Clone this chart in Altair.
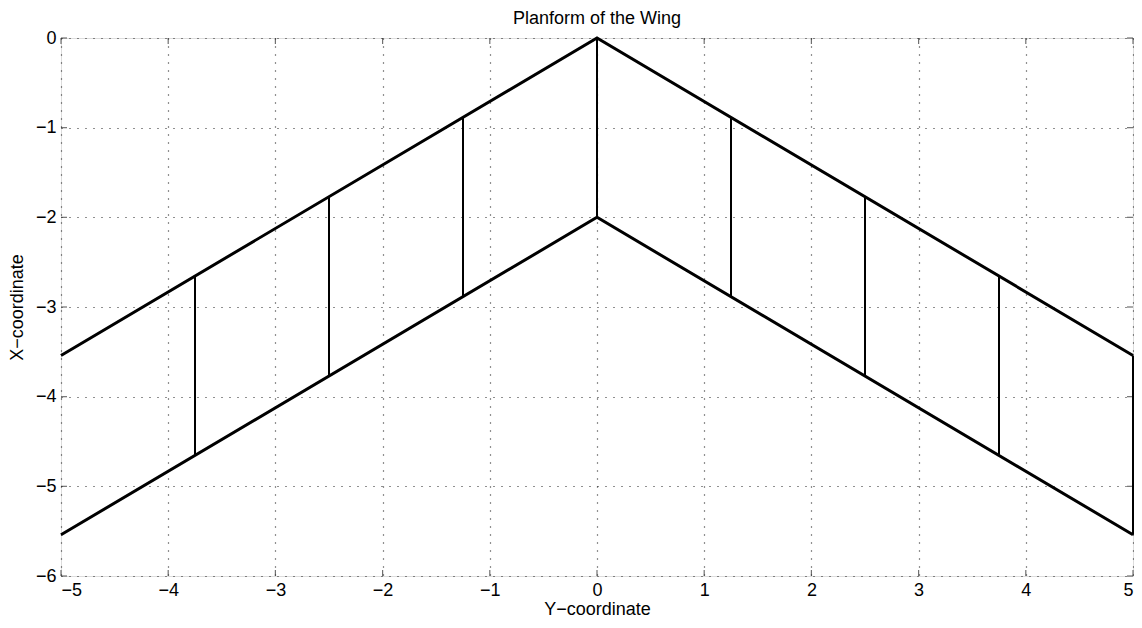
import altair as alt
import pandas as pd

# Wing outline points (Y-coordinate span, X-coordinate chordwise)
edge_y = [-5.0, 0.0, 5.0]
leading_x = [-3.54, 0.0, -3.54]
trailing_x = [-5.54, -2.0, -5.54]

# Panel chord lines (span positions, leading / trailing x)
chord_y = [-3.75, -2.5, -1.25, 0.0, 1.25, 2.5, 3.75, 5.0]
chord_lead = [-2.65, -1.77, -0.88, 0.0, -0.88, -1.77, -2.65, -3.54]
chord_trail = [-4.65, -3.77, -2.88, -2.0, -2.88, -3.77, -4.65, -5.54]

x_ticks = [-5, -4, -3, -2, -1, 0, 1, 2, 3, 4, 5]
y_ticks = [-6, -5, -4, -3, -2, -1, 0]

FONT = "Liberation Sans"
FS = 18
W, H = 1072, 538

edges = pd.DataFrame(
    [{"edge": "leading", "order": i, "y": yy, "x": xx} for i, (yy, xx) in enumerate(zip(edge_y, leading_x))]
    + [{"edge": "trailing", "order": i, "y": yy, "x": xx} for i, (yy, xx) in enumerate(zip(edge_y, trailing_x))]
)
chords = pd.DataFrame({"y": chord_y, "x1": chord_lead, "x2": chord_trail})
xt = pd.DataFrame({"v": x_ticks})
yt = pd.DataFrame({"v": y_ticks})

xs = alt.Scale(domain=[-5, 5], nice=False, zero=False)
ys = alt.Scale(domain=[-6, 0], nice=False, zero=False)

common = dict(grid=True, gridDash=[1, 7], gridColor="#222222", gridOpacity=1, gridWidth=1.2,
              domain=False, ticks=False, labelFont=FONT, labelFontSize=FS, labelColor="#000000",
              titleFont=FONT, titleFontSize=FS, titleFontWeight="normal", titleColor="#000000",
              format="d", labelExpr="replace(datum.label, '-', '\u2212')")

grid_axis_x = alt.Axis(values=x_ticks, labelPadding=5, title="Y\u2212coordinate", titlePadding=1, **common)
grid_axis_y = alt.Axis(values=y_ticks, labelPadding=5, title="X\u2212coordinate", titlePadding=9, **common)

base_grid = alt.Chart(xt).mark_rule(opacity=0).encode(
    x=alt.X("v:Q", scale=xs, axis=grid_axis_x),
)
base_grid_y = alt.Chart(yt).mark_rule(opacity=0).encode(
    y=alt.Y("v:Q", scale=ys, axis=grid_axis_y),
)

tick_col = "#333333"
TS = 6
ticks_bottom = alt.Chart(xt).mark_tick(orient="vertical", size=TS, color=tick_col, thickness=1.2, yOffset=-TS / 2).encode(
    x=alt.X("v:Q", scale=xs), y=alt.datum(-6, scale=ys)
)
ticks_top = alt.Chart(xt).mark_tick(orient="vertical", size=TS, color=tick_col, thickness=1.2, yOffset=TS / 2).encode(
    x=alt.X("v:Q", scale=xs), y=alt.datum(0, scale=ys)
)
ticks_left = alt.Chart(yt).mark_tick(orient="horizontal", size=TS, color=tick_col, thickness=1.2, xOffset=TS / 2).encode(
    y=alt.Y("v:Q", scale=ys), x=alt.datum(-5, scale=xs)
)
ticks_right = alt.Chart(yt).mark_tick(orient="horizontal", size=TS, color=tick_col, thickness=1.2, xOffset=-TS / 2).encode(
    y=alt.Y("v:Q", scale=ys), x=alt.datum(5, scale=xs)
)

edge_lines = alt.Chart(edges).mark_line(color="#000000", strokeWidth=3).encode(
    x=alt.X("y:Q", scale=xs),
    y=alt.Y("x:Q", scale=ys),
    detail="edge:N",
    order="order:Q",
)
chord_lines = alt.Chart(chords).mark_rule(color="#000000", strokeWidth=2).encode(
    x=alt.X("y:Q", scale=xs),
    y=alt.Y("x1:Q", scale=ys),
    y2="x2:Q",
)

chart = alt.layer(
    base_grid, base_grid_y, ticks_bottom, ticks_top, ticks_left, ticks_right, chord_lines, edge_lines
).properties(
    width=W, height=H,
    title=alt.TitleParams("Planform of the Wing", font=FONT, fontSize=FS, fontWeight="normal",
                          color="#000000", offset=1),
    autosize=alt.AutoSizeParams(type="none"),
    padding={"left": 53, "top": 30, "right": 1, "bottom": 44},
).configure_view(
    stroke="#333333", strokeWidth=1.3
).configure(background="#ffffff")

chart.save("out.html", embed_options={"renderer": "svg", "actions": False})
